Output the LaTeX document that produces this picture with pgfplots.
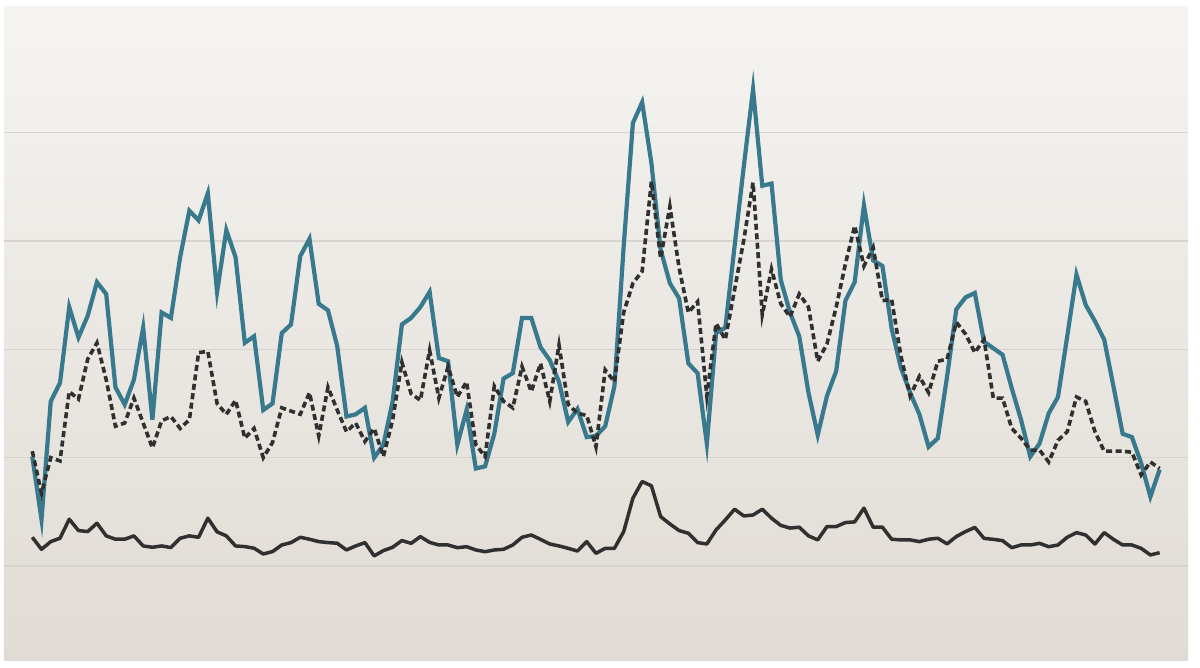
\documentclass[border=0pt]{standalone}
\usepackage{pgfplots}
\pgfplotsset{compat=1.18}
\usepackage{pgfplotstable}

\definecolor{teal}{RGB}{56,121,141}
\definecolor{ink}{RGB}{48,48,48}
\definecolor{gridc}{RGB}{215,211,205}
\definecolor{bgtop}{RGB}{245,244,241}
\definecolor{bgbot}{RGB}{224,219,212}

% x = index, t = teal series, d = dashed series, b = black series
\pgfplotstableread{
x t d b
0 10.1 10.6 2.65
1 4.3 6.7 1.54
2 15.2 10.0 2.25
3 16.9 9.7 2.56
4 23.9 16.1 4.32
5 21.1 15.4 3.27
6 23.1 19.1 3.18
7 26.2 20.6 3.95
8 25.1 17.2 2.78
9 16.5 12.9 2.47
10 14.9 13.2 2.47
11 17.2 15.5 2.78
12 22.0 13.2 1.85
13 13.5 10.9 1.73
14 23.4 13.4 1.85
15 22.9 13.8 1.70
16 28.5 12.7 2.56
17 32.8 13.5 2.78
18 31.9 19.7 2.65
19 34.4 19.8 4.41
20 25.3 15.0 3.15
21 31.0 14.0 2.78
22 28.5 15.3 1.85
23 20.6 11.8 1.79
24 21.2 12.7 1.64
25 14.4 10.0 1.11
26 15.0 11.4 1.33
27 21.5 14.6 1.94
28 22.3 14.3 2.16
29 28.6 14.0 2.65
30 30.2 16.0 2.47
31 24.2 12.0 2.25
32 23.6 16.5 2.16
33 20.3 14.4 2.10
34 13.8 12.4 1.48
35 14.0 13.2 1.85
36 14.6 11.5 2.16
37 10.0 12.7 0.93
38 11.2 10.1 1.42
39 15.2 13.5 1.73
40 22.3 18.8 2.35
41 22.9 15.9 2.09
42 23.9 15.3 2.71
43 25.3 19.9 2.18
44 19.2 15.5 1.94
45 18.9 18.4 1.94
46 11.2 15.6 1.69
47 14.4 17.0 1.78
48 9.0 11.2 1.48
49 9.2 10.1 1.32
50 12.2 16.6 1.48
51 17.3 15.2 1.54
52 17.8 14.6 1.94
53 22.9 18.4 2.65
54 22.9 16.1 2.86
55 20.2 18.7 2.46
56 19.0 15.2 2.03
57 17.0 20.4 1.85
58 13.3 14.9 1.63
59 14.5 14.1 1.38
60 11.9 13.9 2.25
61 12.0 11.0 1.17
62 12.9 18.1 1.63
63 16.6 17.0 1.63
64 29.5 23.4 3.17
65 40.9 26.1 6.26
66 42.8 27.2 7.80
67 37.2 35.5 7.40
68 29.2 28.4 4.56
69 26.1 33.2 3.88
70 24.7 27.5 3.27
71 18.7 23.4 3.02
72 17.8 24.4 2.16
73 11.3 15.7 2.03
74 21.5 22.4 3.33
75 22.0 20.9 4.25
76 29.5 25.5 5.24
77 36.9 30.1 4.62
78 44.0 35.4 4.71
79 35.1 23.2 5.24
80 35.3 27.4 4.41
81 26.4 24.2 3.75
82 23.4 23.0 3.50
83 21.2 25.1 3.58
84 16.0 23.9 2.78
85 12.1 18.9 2.41
86 15.7 20.5 3.64
87 18.0 23.9 3.64
88 24.5 27.9 4.01
89 26.2 31.4 4.07
90 33.3 27.7 5.34
91 28.2 29.4 3.58
92 27.7 24.5 3.58
93 21.9 24.6 2.47
94 18.3 19.4 2.41
95 16.0 15.7 2.41
96 14.0 17.5 2.25
97 11.0 16.0 2.47
98 11.8 18.9 2.56
99 17.5 19.1 2.04
100 23.7 22.5 2.72
101 24.8 21.4 3.18
102 25.2 19.7 3.56
103 20.7 20.9 2.55
104 20.1 15.5 2.46
105 19.5 15.5 2.34
106 16.4 12.7 1.69
107 13.5 11.8 1.94
108 10.1 10.7 1.94
109 11.3 10.7 2.09
110 14.1 9.6 1.78
111 15.6 11.6 1.94
112 21.2 12.4 2.65
113 26.9 15.6 3.08
114 24.1 15.2 2.86
115 22.6 12.4 2.03
116 20.9 10.6 3.08
117 16.6 10.6 2.46
118 12.2 10.6 1.94
119 11.9 10.5 1.94
120 9.5 8.4 1.63
121 6.4 9.6 1.02
122 8.9 9.0 1.23
}\series

\begin{document}
\begin{tikzpicture}
\useasboundingbox (0,0) rectangle (1200pt,667pt);
\fill[white] (0,0) rectangle (1200pt,667pt);
\begin{axis}[
    at={(4pt,6pt)}, anchor=south west,
    scale only axis,
    width=1184pt, height=654pt,
    xmin=-3.06, xmax=125.07,
    ymin=-8.77, ymax=51.6,
    xtick=\empty,
    ytick={0,10,20,30,40},
    yticklabels={},
    ymajorgrids,
    major grid style={gridc, line width=1.6pt},
    axis line style={draw=none},
    tick style={draw=none},
    axis background/.style={shade, top color=bgtop, bottom color=bgbot},
]
    \addplot[teal, line width=4.2pt, line join=miter] table[x=x, y=t] {\series};
    \addplot[ink, line width=3.6pt, dash pattern=on 6pt off 3.5pt] table[x=x, y=d] {\series};
    \addplot[ink, line width=3.5pt, line join=round] table[x=x, y=b] {\series};
\end{axis}
\end{tikzpicture}
\end{document}
